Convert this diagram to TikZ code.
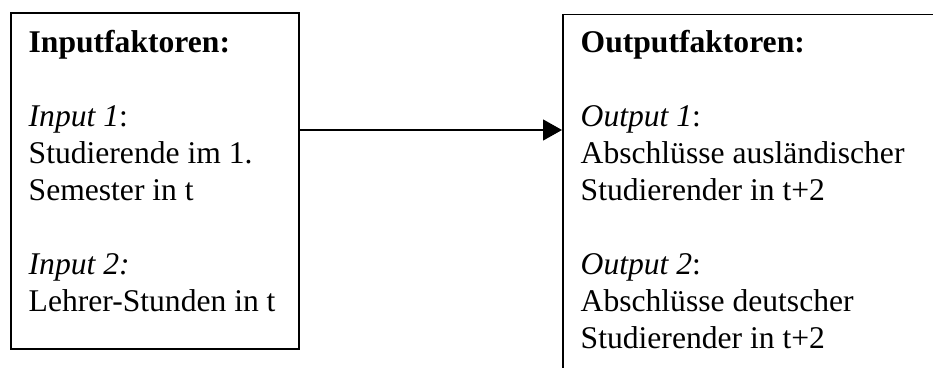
\documentclass[tikz,border=0pt]{standalone}
\usepackage{fontspec}
\setmainfont{Liberation Serif}
\usetikzlibrary{arrows.meta}
\tikzset{
  boxline/.style={draw=black, line width=1.5pt, inner sep=0pt},
  boxtext/.style={anchor=base west, inner sep=0pt, font=\fontsize{31.6}{37}\selectfont},
  flow/.style={line width=1.3pt, -{Triangle[length=19pt,width=21pt]}}
}
\begin{document}
\begin{tikzpicture}[x=1pt,y=1pt]
\useasboundingbox (0,0) rectangle (933,367);
\clip (0,0) rectangle (933,367);
% boxes
\node[boxline, minimum width=288pt, minimum height=335.5pt, anchor=south west] (inbox) at (10,17.5) {};
\node[boxline, minimum width=400pt, minimum height=380pt, anchor=north west] (outbox) at (562,353) {};
% texts
\node[boxtext] (intext) at (28.5,314.7) {\begin{tabular}[t]{@{}l@{}}
\textbf{Inputfaktoren:}\\
\\
\textit{Input 1}:\\
Studierende im 1.\\
Semester in t\\
\\
\textit{Input 2:}\\
Lehrer-Stunden in t
\end{tabular}};
\node[boxtext] (outtext) at (580.5,314.7) {\begin{tabular}[t]{@{}l@{}}
\textbf{Outputfaktoren:}\\
\\
\textit{Output 1}:\\
Abschlüsse ausländischer\\
Studierender in t+2\\
\\
\textit{Output 2}:\\
Abschlüsse deutscher\\
Studierender in t+2
\end{tabular}};
% connector
\coordinate (arrowlevel) at (0,237);
\draw[flow] (inbox.east |- arrowlevel) -- (outbox.west |- arrowlevel);
\end{tikzpicture}
\end{document}
